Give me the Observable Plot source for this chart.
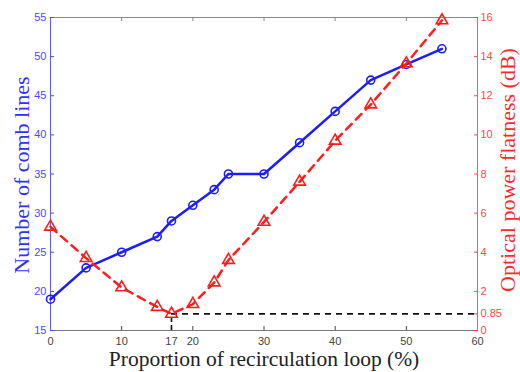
<!DOCTYPE html>
<html><head><meta charset="utf-8">
<script src="https://cdn.jsdelivr.net/npm/d3@7"></script>
<script src="https://cdn.jsdelivr.net/npm/@observablehq/plot@0.6"></script>
<style>body{margin:0;background:#fff}</style>
</head><body><div id="chart"></div>
<script>
const proportion = [0, 5, 10, 15, 17, 20, 23, 25, 30, 35, 40, 45, 50, 55];
const combLines  = [19, 23, 25, 27, 29, 31, 33, 35, 35, 39, 43, 47, 49, 51];
const flatness   = [5.3, 3.7, 2.2, 1.2, 0.85, 1.35, 2.45, 3.6, 5.55, 7.6, 9.7, 11.55, 13.65, 15.85];
const xTicks = [0, 10, 17, 20, 30, 40, 50, 60];
const topTicks = [10, 20, 30, 40, 50];
const leftTicks = [15, 20, 25, 30, 35, 40, 45, 50, 55];
const rightTicks = [0, 0.85, 2, 4, 6, 8, 10, 12, 14, 16];
const minProportion = 17;
const minFlatness = 0.85;
const xLabel = "Proportion of recirculation loop (%)";
const leftLabel = "Number of comb lines";
const rightLabel = "Optical power flatness (dB)";

const leftDomain = [15, 55], rightDomain = [0, 16], xDomain = [0, 60];
const toLeft = v => leftDomain[0] + (v - rightDomain[0]) * (leftDomain[1] - leftDomain[0]) / (rightDomain[1] - rightDomain[0]);
const toRight = v => +(rightDomain[0] + (v - leftDomain[0]) * (rightDomain[1] - rightDomain[0]) / (leftDomain[1] - leftDomain[0])).toFixed(2);

const rows = proportion.map((p, i) => ({p, n: combLines[i], f: flatness[i]}));
const BLUE = "#1c1cff", RED = "#ff1c1c";
const SERIF = "'Liberation Serif', 'Times New Roman', serif";

const chart = Plot.plot({
  width: 520, height: 372,
  marginLeft: 50, marginRight: 43, marginTop: 17, marginBottom: 42,
  style: {fontFamily: "'Liberation Sans', Arial, sans-serif", fontSize: "11px", background: "#fff"},
  x: {domain: xDomain},
  y: {domain: leftDomain},
  marks: [
    Plot.ruleY([leftDomain[1]], {stroke: "#888", strokeWidth: 1}),
    Plot.axisX({anchor: "top", ticks: topTicks, tickSize: -3, tickFormat: () => "", stroke: "#888", label: null}),
    Plot.ruleY([leftDomain[0]], {stroke: "#777", strokeWidth: 1}),
    Plot.axisX({anchor: "bottom", ticks: xTicks, tickSize: -4, tickPadding: 11, color: "#444", label: null}),
    Plot.ruleX([xDomain[0]], {stroke: "#5a5aff", strokeWidth: 1}),
    Plot.axisY({anchor: "left", ticks: leftTicks, tickSize: -4, tickPadding: 8, color: "#4a4aff", label: null}),
    Plot.ruleX([xDomain[1]], {stroke: "#ff5a5a", strokeWidth: 1}),
    Plot.axisY({anchor: "right", ticks: rightTicks.map(toLeft), tickSize: -4, tickPadding: 7, color: "#ff4a4a", tickFormat: d => String(toRight(d)), label: null}),
    Plot.ruleY([minFlatness], {y: d => toLeft(d), x1: minProportion, x2: xDomain[1], stroke: "#111", strokeWidth: 1.6, strokeDasharray: "6,5"}),
    Plot.ruleX([minProportion], {y1: leftDomain[0], y2: toLeft(minFlatness), stroke: "#111", strokeWidth: 1.6, strokeDasharray: "5,3"}),
    Plot.line(rows, {x: "p", y: "n", stroke: BLUE, strokeWidth: 2.5}),
    Plot.dot(rows, {x: "p", y: "n", r: 4, stroke: BLUE, fill: "none", strokeWidth: 1.6}),
    Plot.line(rows, {x: "p", y: d => toLeft(d.f), stroke: RED, strokeWidth: 2.5, strokeDasharray: "8,6"}),
    Plot.dot(rows, {x: "p", y: d => toLeft(d.f), symbol: "triangle", r: 4.3, stroke: RED, fill: "none", strokeWidth: 1.6}),
    Plot.text([leftLabel], {frameAnchor: "left", dx: -29, dy: 1, rotate: -90, textAnchor: "middle", lineAnchor: "middle", fill: "#3030ff", fontSize: 22, fontFamily: SERIF}),
    Plot.text([rightLabel], {frameAnchor: "right", dx: 30, dy: -4, rotate: -90, textAnchor: "middle", lineAnchor: "middle", fill: "#ff2a2a", fontSize: 22, fontFamily: SERIF}),
    Plot.text([xLabel], {frameAnchor: "bottom", dy: 29, textAnchor: "middle", lineAnchor: "middle", fill: "#222", fontSize: 21.5, fontFamily: SERIF})
  ]
});
document.getElementById("chart").appendChild(chart);
</script>
</body></html>
